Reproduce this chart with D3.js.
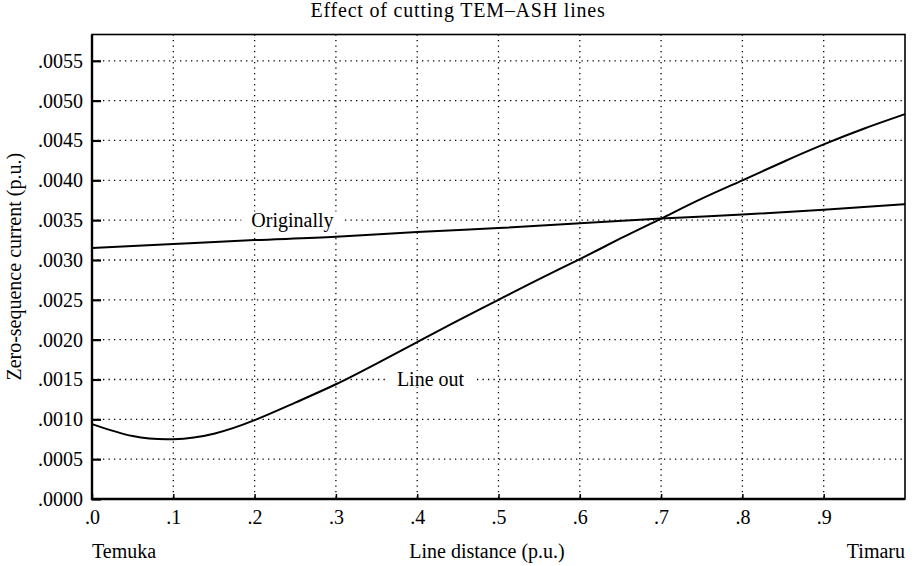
<!DOCTYPE html>
<html>
<head>
<meta charset="utf-8">
<script src="https://cdn.jsdelivr.net/npm/d3@7"></script>
<style>
  html, body { margin: 0; padding: 0; background: #fff; }
  svg { display: block; }
  svg text { font-family: "Liberation Serif", "Times New Roman", serif !important; fill: #000; }
</style>
</head>
<body>
<svg id="chart" width="916" height="566"></svg>
<script>
// Zero-sequence current along the Temuka–Timaru line (p.u.)
const originalX = [0, 0.1, 0.2, 0.3, 0.4, 0.5, 0.6, 0.7, 0.8, 0.9, 1.0];
const originalY = [0.00315, 0.00320, 0.00325, 0.00329, 0.00335, 0.00340, 0.00346, 0.00352, 0.00357, 0.00363, 0.00370];

const lineOutX = [0, 0.05, 0.1, 0.15, 0.2, 0.25, 0.3, 0.35, 0.4, 0.45, 0.5, 0.55, 0.6, 0.65, 0.7, 0.75, 0.8, 0.85, 0.9, 0.95, 1.0];
const lineOutY = [0.00094, 0.00079, 0.00075, 0.00082, 0.00099, 0.00121, 0.00144, 0.00170, 0.00197, 0.00224, 0.00250, 0.00276, 0.00301, 0.00327, 0.00352, 0.00377, 0.00400, 0.00423, 0.00445, 0.00465, 0.00483];

const xTicks = [0, 0.1, 0.2, 0.3, 0.4, 0.5, 0.6, 0.7, 0.8, 0.9];
const xTickLabels = [".0", ".1", ".2", ".3", ".4", ".5", ".6", ".7", ".8", ".9"];
const yTicks = [0, 0.0005, 0.0010, 0.0015, 0.0020, 0.0025, 0.0030, 0.0035, 0.0040, 0.0045, 0.0050, 0.0055];
const yTickLabels = [".0000", ".0005", ".0010", ".0015", ".0020", ".0025", ".0030", ".0035", ".0040", ".0045", ".0050", ".0055"];

const seriesLabels = [
  { text: "Originally", x: 0.196, y: 0.0035 },
  { text: "Line out",   x: 0.375, y: 0.0015 }
];

const titleText = "Effect of cutting TEM\u2013ASH lines";
const xAxisTitle = "Line distance (p.u.)";
const yAxisTitle = "Zero-sequence current (p.u.)";
const leftEnd = "Temuka";
const rightEnd = "Timaru";

const FS = 20;
const SERIF = '"Liberation Serif", "Times New Roman", serif';
const svg = d3.select("#chart");
const m = { left: 92, right: 905, top: 34.5, bottom: 499 };

const x = d3.scaleLinear().domain([0, 1]).range([m.left, m.right]);
const y = d3.scaleLinear().domain([0, 0.00583]).range([m.bottom, m.top]);

// dotted grid
const grid = svg.append("g").attr("stroke", "#000").attr("stroke-width", 1.3)
  .attr("stroke-dasharray", "1.3,4.2");
grid.selectAll("line.v").data(xTicks.filter(d => d > 0)).join("line")
  .attr("x1", d => x(d)).attr("x2", d => x(d))
  .attr("y1", m.top).attr("y2", m.bottom);
grid.selectAll("line.h").data(yTicks.filter(d => d > 0)).join("line")
  .attr("x1", m.left).attr("x2", m.right)
  .attr("y1", d => y(d)).attr("y2", d => y(d));

// series labels with white knock-out boxes over the grid
const labelLayer = svg.append("g");
seriesLabels.forEach(l => {
  const g = labelLayer.append("g");
  const bg = g.append("rect").attr("fill", "#fff");
  const t = g.append("text")
    .attr("x", x(l.x)).attr("y", y(l.y))
    .attr("dy", "0.32em")
    .style("font-family", SERIF)
    .style("font-size", FS + "px")
    .text(l.text);
  const bb = t.node().getBBox();
  bg.attr("x", bb.x - 10).attr("y", bb.y + 3)
    .attr("width", bb.width + 20).attr("height", bb.height - 6);
});

// tick marks (inward) and labels
const yAxis = d3.axisLeft(y).tickValues(yTicks).tickFormat((d, i) => yTickLabels[i])
  .tickSizeInner(-9).tickSizeOuter(0).tickPadding(9);
const gy = svg.append("g").attr("transform", `translate(${m.left},0)`).call(yAxis)
  .attr("font-family", SERIF).attr("font-size", FS);
gy.select(".domain").remove();
gy.selectAll(".tick line").attr("stroke", "#000").attr("stroke-width", 2.2);
gy.selectAll(".tick text").style("font-family", SERIF).style("font-size", FS + "px").attr("dy", "0.32em");

const xAxis = d3.axisBottom(x).tickValues(xTicks).tickFormat((d, i) => xTickLabels[i])
  .tickSizeInner(-5).tickSizeOuter(0).tickPadding(11);
const gx = svg.append("g").attr("transform", `translate(0,${m.bottom})`).call(xAxis)
  .attr("font-family", SERIF).attr("font-size", FS);
gx.select(".domain").remove();
gx.selectAll(".tick line").attr("stroke", "#000").attr("stroke-width", 1.5);
gx.selectAll(".tick text").style("font-family", SERIF).style("font-size", FS + "px");

// frame
svg.append("rect")
  .attr("x", m.left).attr("y", m.top)
  .attr("width", m.right - m.left).attr("height", m.bottom - m.top)
  .attr("fill", "none").attr("stroke", "#000").attr("stroke-width", 1.6);
svg.append("path")
  .attr("d", `M${m.left},${m.top}V${m.bottom}H${m.right}`)
  .attr("fill", "none").attr("stroke", "#000").attr("stroke-width", 2.4);

// curves
const lineGen = d3.line().x(d => x(d[0])).y(d => y(d[1])).curve(d3.curveNatural);
svg.append("path")
  .datum(originalX.map((d, i) => [d, originalY[i]]))
  .attr("d", lineGen).attr("fill", "none").attr("stroke", "#000").attr("stroke-width", 2);
svg.append("path")
  .datum(lineOutX.map((d, i) => [d, lineOutY[i]]))
  .attr("d", lineGen).attr("fill", "none").attr("stroke", "#000").attr("stroke-width", 2);

// titles
const txt = (sel) => sel.style("font-family", SERIF);
txt(svg.append("text").attr("x", 458).attr("y", 17).attr("text-anchor", "middle")
  .style("font-size", "20px").style("letter-spacing", "0.8px").text(titleText));
txt(svg.append("text").attr("x", 487).attr("y", 558).attr("text-anchor", "middle")
  .style("font-size", FS + "px").text(xAxisTitle));
txt(svg.append("text").attr("x", m.left).attr("y", 558)
  .style("font-size", FS + "px").text(leftEnd));
txt(svg.append("text").attr("x", m.right).attr("y", 558).attr("text-anchor", "end")
  .style("font-size", FS + "px").text(rightEnd));
txt(svg.append("text")
  .attr("transform", `translate(21,${(m.top + m.bottom) / 2}) rotate(-90)`)
  .attr("text-anchor", "middle")
  .style("font-size", FS + "px").text(yAxisTitle));
</script>
</body>
</html>
